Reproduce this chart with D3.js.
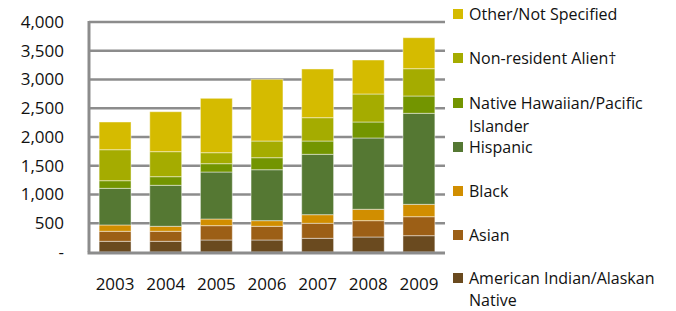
<!DOCTYPE html>
<html>
<head>
<meta charset="utf-8">
<script src="https://cdn.jsdelivr.net/npm/d3@7"></script>
<style>
  body { margin: 0; background: #fff; }
  text { font-family: 'Open Sans', sans-serif; fill: #111; }
</style>
</head>
<body>
<div class="canvas"></div>
<script>
const years = ['2003', '2004', '2005', '2006', '2007', '2008', '2009'];
const groups = ['American Indian/Alaskan Native', 'Asian', 'Black', 'Hispanic',
    'Native Hawaiian/Pacific Islander', 'Non-resident Alien\u2020', 'Other/Not Specified'];
const colours = ['#6a4a1f', '#9c5f16', '#d18e00', '#557833', '#739500', '#a5ac00', '#d5bb00'];

const amIndian   = [186, 186, 209, 209, 238, 261, 284];
const asian      = [174, 174, 249, 238, 261, 284, 330];
const black      = [110,  87, 116,  98, 150, 198, 215];
const hispanic   = [637, 713, 817, 886, 1050, 1240, 1583];
const hawaiian   = [133, 150, 145, 209, 231, 278, 301];
const nonRes     = [539, 435, 191, 290, 406, 487, 475];
const other      = [482, 695, 946, 1073, 847, 591, 539];
const yTicks     = [0, 500, 1000, 1500, 2000, 2500, 3000, 3500, 4000];

const series = [amIndian, asian, black, hispanic, hawaiian, nonRes, other];

const table = years.map((y, i) => {
    const row = { year: y };
    groups.forEach((g, j) => { row[g] = series[j][i]; });
    return row;
});

const dims = { width: 676, height: 311 };
const plot = { left: 89, right: 445, top: 22, bottom: 252 };
const fontSize = 17;

const svg = d3.select('.canvas')
    .append('svg')
    .attr('width', dims.width)
    .attr('height', dims.height)
;

const x = d3.scaleBand()
    .domain(years)
    .range([plot.left, plot.right])
    .paddingInner(0.37)
    .paddingOuter(0.2)
;

const y = d3.scaleLinear()
    .domain([0, 4000])
    .range([plot.bottom, plot.top])
;

const colour = d3.scaleOrdinal().domain(groups).range(colours);

// gridlines
svg.append('g')
    .selectAll('line')
    .data(yTicks.slice(1))
    .enter().append('line')
    .attr('x1', plot.left)
    .attr('x2', plot.right)
    .attr('y1', d => y(d))
    .attr('y2', d => y(d))
    .attr('stroke', '#8c8c8c')
    .attr('stroke-width', 2.5)
;

// y labels
svg.append('g')
    .selectAll('text')
    .data(yTicks)
    .enter().append('text')
    .attr('x', 64)
    .attr('y', d => y(d))
    .attr('dy', '0.35em')
    .attr('text-anchor', 'end')
    .attr('font-size', fontSize)
    .text(d => d === 0 ? '-' : d3.format(',')(d))
;

const stack = d3.stack().keys(groups);

svg.append('g')
    .selectAll('g')
    .data(stack(table))
    .enter().append('g')
    .attr('fill', d => colour(d.key))
    .selectAll('rect')
    .data(d => d)
    .enter().append('rect')
    .attr('x', d => x(d.data.year))
    .attr('width', x.bandwidth())
    .attr('y', d => y(d[1]))
    .attr('height', d => y(d[0]) - y(d[1]))
    .attr('stroke', '#ffffff')
    .attr('stroke-opacity', 0.45)
    .attr('stroke-width', 1)
;

// axes lines
svg.append('line')
    .attr('x1', plot.left).attr('x2', plot.left)
    .attr('y1', plot.top - 1).attr('y2', plot.bottom)
    .attr('stroke', '#8c8c8c').attr('stroke-width', 3);
svg.append('line')
    .attr('x1', plot.left - 1.5).attr('x2', plot.right)
    .attr('y1', plot.bottom + 1).attr('y2', plot.bottom + 1)
    .attr('stroke', '#8c8c8c').attr('stroke-width', 3);

// x labels
svg.append('g')
    .selectAll('text')
    .data(years)
    .enter().append('text')
    .attr('x', d => x(d) + x.bandwidth() / 2)
    .attr('y', 284)
    .attr('dy', '0.35em')
    .attr('text-anchor', 'middle')
    .attr('font-size', fontSize)
    .text(d => d)
;

// legend, top item first
const legendItems = [
    { key: groups[6], lines: ['Other/Not Specified'], y: 14, gap: 23 },
    { key: groups[5], lines: ['Non-resident Alien\u2020'], y: 58, gap: 23 },
    { key: groups[4], lines: ['Native Hawaiian/Pacific', 'Islander'], y: 103, gap: 23 },
    { key: groups[3], lines: ['Hispanic'], y: 147, gap: 23 },
    { key: groups[2], lines: ['Black'], y: 191, gap: 23 },
    { key: groups[1], lines: ['Asian'], y: 235, gap: 23 },
    { key: groups[0], lines: ['American Indian/Alaskan', 'Native'], y: 278, gap: 22 }
];

const legend = svg.append('g');
const item = legend.selectAll('g')
    .data(legendItems)
    .enter().append('g')
    .attr('transform', d => `translate(453, ${d.y})`)
;
item.append('rect')
    .attr('x', 0).attr('y', -5)
    .attr('width', 10).attr('height', 10)
    .attr('fill', d => colour(d.key));
item.append('text')
    .attr('x', 16)
    .attr('font-size', 16)
    .selectAll('tspan')
    .data(d => d.lines.map(l => ({ line: l, gap: d.gap })))
    .enter().append('tspan')
    .attr('x', 16)
    .attr('y', (d, i) => i * d.gap)
    .attr('dy', '0.35em')
    .text(d => d.line)
;
</script>
</body>
</html>
